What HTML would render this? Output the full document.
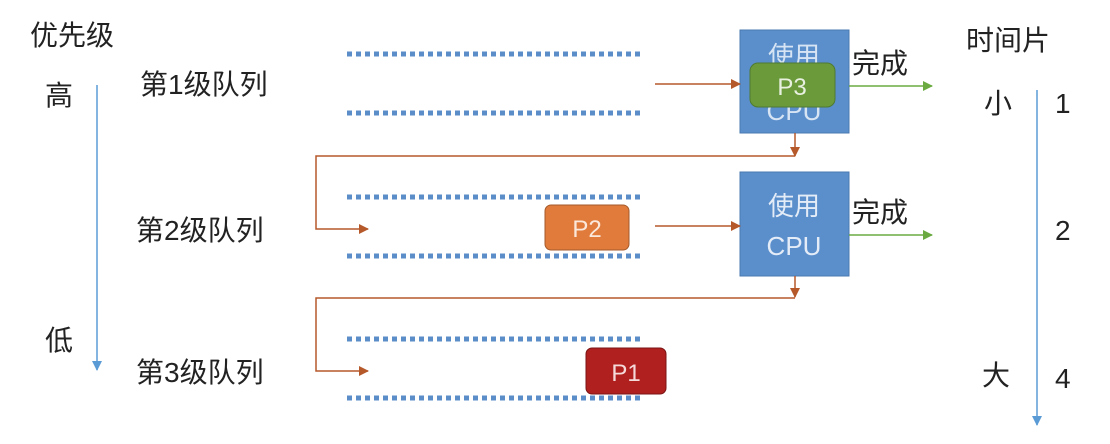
<!DOCTYPE html>
<html><head><meta charset="utf-8"><style>
body{margin:0;background:#fff;}
svg text{font-family:"Liberation Sans","Noto Sans CJK SC",sans-serif;}
</style></head><body>
<svg width="1110" height="439" xmlns="http://www.w3.org/2000/svg">
<defs>
<marker id="ob" markerWidth="10" markerHeight="10" refX="9" refY="5" orient="auto" markerUnits="userSpaceOnUse"><path d="M0,0 L10,5 L0,10 z" fill="#b5582a"/></marker>
<marker id="gb" markerWidth="10" markerHeight="10" refX="9" refY="5" orient="auto" markerUnits="userSpaceOnUse"><path d="M0,0 L10,5 L0,10 z" fill="#6aaa40"/></marker>
<marker id="bb" markerWidth="10" markerHeight="10" refX="9" refY="5" orient="auto" markerUnits="userSpaceOnUse"><path d="M0,0 L10,5 L0,10 z" fill="#5b9bd5"/></marker>
</defs>
<g stroke="#5b8ec9" stroke-width="5" stroke-dasharray="5 4">
<line x1="347" y1="54" x2="640" y2="54"/><line x1="347" y1="113" x2="640" y2="113"/>
<line x1="347" y1="197" x2="640" y2="197"/><line x1="347" y1="256" x2="640" y2="256"/>
<line x1="347" y1="339" x2="640" y2="339"/><line x1="347" y1="398" x2="640" y2="398"/>
</g>
<g font-size="28" fill="#222">
<text x="30" y="45">优先级</text>
<text x="45" y="105">高</text>
<text x="45" y="350">低</text>
<text x="140" y="94">第1级队列</text>
<text x="136" y="240">第2级队列</text>
<text x="136" y="382">第3级队列</text>
<text x="966" y="50">时间片</text>
<text x="984" y="113">小</text>
<text x="982" y="385">大</text>
<text x="1055" y="113">1</text>
<text x="1055" y="240">2</text>
<text x="1055" y="388">4</text>
<text x="852" y="73">完成</text>
<text x="852" y="222">完成</text>
</g>
<line x1="97" y1="85" x2="97" y2="370" stroke="#5b9bd5" stroke-width="1.5" marker-end="url(#bb)"/>
<line x1="1037" y1="90" x2="1037" y2="425" stroke="#5b9bd5" stroke-width="1.5" marker-end="url(#bb)"/>
<rect x="740" y="30" width="109" height="103" fill="#5b8fcc" stroke="#4a78b0"/>
<text x="794" y="65" font-size="26" fill="#d7e4f4" text-anchor="middle">使用</text>
<text x="794" y="120" font-size="26" fill="#d7e4f4" text-anchor="middle">CPU</text>
<rect x="750" y="63" width="85" height="44" rx="8" fill="#6b9a3b" stroke="#4f7a30"/>
<text x="792" y="95" font-size="24" fill="#e8f0e0" text-anchor="middle">P3</text>
<rect x="740" y="172" width="109" height="104" fill="#5b8fcc" stroke="#4a78b0"/>
<text x="794" y="215" font-size="26" fill="#e4ecf7" text-anchor="middle">使用</text>
<text x="794" y="255" font-size="26" fill="#e4ecf7" text-anchor="middle">CPU</text>
<rect x="545" y="205" width="84" height="45" rx="6" fill="#e07b3c" stroke="#a55a2a"/>
<text x="587" y="237" font-size="24" fill="#fbe8da" text-anchor="middle">P2</text>
<rect x="586" y="348" width="80" height="46" rx="6" fill="#b0201e" stroke="#7a1414"/>
<text x="626" y="381" font-size="24" fill="#f5dada" text-anchor="middle">P1</text>
<g stroke="#b5582a" stroke-width="1.5" fill="none">
<line x1="655" y1="84" x2="740" y2="84" marker-end="url(#ob)"/>
<line x1="655" y1="226" x2="740" y2="226" marker-end="url(#ob)"/>
<line x1="795" y1="133" x2="795" y2="156" marker-end="url(#ob)"/>
<line x1="795" y1="276" x2="795" y2="297" marker-end="url(#ob)"/>
<polyline points="795,156 316,156 316,229 368,229" marker-end="url(#ob)"/>
<polyline points="795,298 316,298 316,371 368,371" marker-end="url(#ob)"/>
</g>
<line x1="849" y1="86" x2="932" y2="86" stroke="#6aaa40" stroke-width="1.5" marker-end="url(#gb)"/>
<line x1="849" y1="235" x2="932" y2="235" stroke="#6aaa40" stroke-width="1.5" marker-end="url(#gb)"/>
</svg>
</body></html>
